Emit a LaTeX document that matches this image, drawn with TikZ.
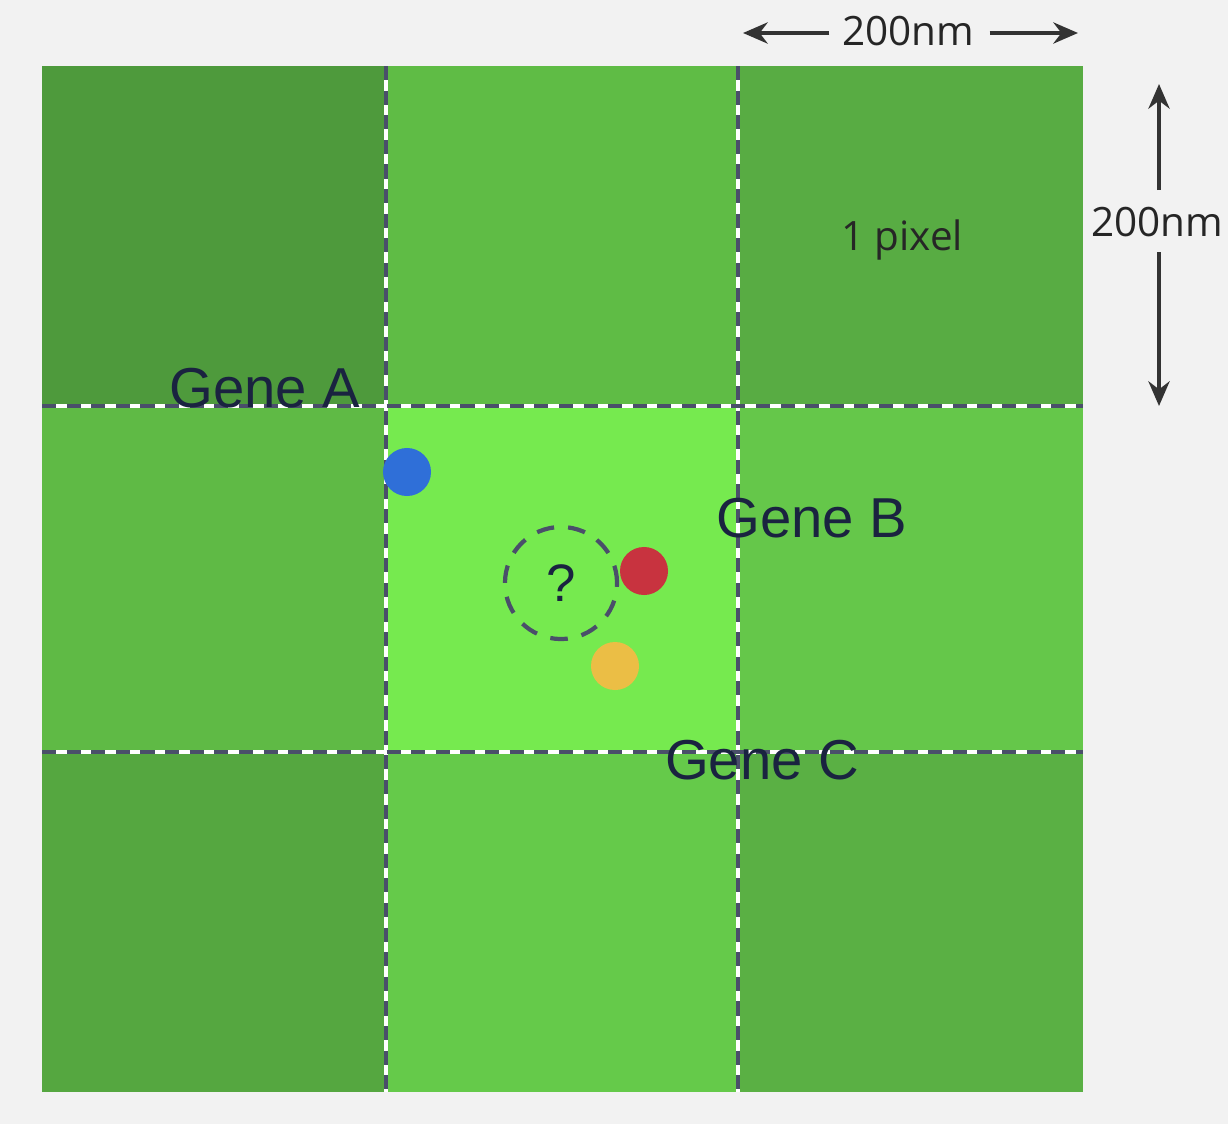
\documentclass[tikz,border=0pt]{standalone}
\usepackage{fontspec}
\setmainfont{Open Sans}
\newfontfamily\genefont{Liberation Sans}
\usetikzlibrary{positioning,arrows.meta}
\definecolor{bgc}{HTML}{F2F2F2}
\definecolor{ink}{HTML}{1A2340}
\definecolor{gridc}{HTML}{4A4F6A}
\tikzset{
  gene/.style={text=ink, font=\genefont\fontsize{16}{18}\selectfont, inner sep=0pt},
  dim/.style={font=\fontsize{11.5}{13}\selectfont, text=black!85, inner sep=0pt},
  dimarrow/.style={->, line width=1.2pt, black!80, >={Stealth[length=7pt,width=6pt]}},
  gridline/.style={line width=1.3pt},
  spot/.style={circle, minimum size=0.48cm, inner sep=0pt}
}
\begin{document}
\begin{tikzpicture}[x=0.01cm, y=-0.01cm]
  \fill[bgc] (0,0) rectangle (1228,1124);
  \useasboundingbox (0,0) rectangle (1228,1124);
  % pixel cells
  \fill[fill={rgb,255:red,78;green,154;blue,60}] (42,66) rectangle (386,406);
  \fill[fill={rgb,255:red,95;green,188;blue,69}] (386,66) rectangle (738,406);
  \fill[fill={rgb,255:red,88;green,172;blue,67}] (738,66) rectangle (1083,406);
  \fill[fill={rgb,255:red,95;green,186;blue,69}] (42,406) rectangle (386,752);
  \fill[fill={rgb,255:red,118;green,234;blue,79}] (386,406) rectangle (738,752);
  \fill[fill={rgb,255:red,101;green,199;blue,74}] (738,406) rectangle (1083,752);
  \fill[fill={rgb,255:red,85;green,167;blue,64}] (42,752) rectangle (386,1092);
  \fill[fill={rgb,255:red,101;green,202;blue,74}] (386,752) rectangle (738,1092);
  \fill[fill={rgb,255:red,90;green,176;blue,68}] (738,752) rectangle (1083,1092);
  % grid lines
  \foreach \x in {386,738} {
    \draw[gridline, white] (\x,66) -- (\x,1092);
    \draw[gridline, gridc, dash pattern=on 4pt off 3pt] (\x,66) -- (\x,1092);
  }
  \foreach \y in {406,752} {
    \draw[gridline, white] (42,\y) -- (1083,\y);
    \draw[gridline, gridc, dash pattern=on 4pt off 3pt] (42,\y) -- (1083,\y);
  }
  % labels
  \node[gene] (geneA) at (265,388) {Gene A};
  \node[gene] (geneB) at (812,518) {Gene B};
  \node[gene] (geneC) at (762,760) {Gene C};
  \node[dim] (pixel) at (902,240) {1 pixel};
  % spots
  \node[spot, fill={rgb,255:red,47;green,111;blue,216}] (blue) at (407,472) {};
  \node[spot, fill={rgb,255:red,200;green,51;blue,63}] (red) at (644,571) {};
  \node[spot, fill={rgb,255:red,235;green,190;blue,69}] (yellow) at (615,666) {};
  \node[circle, minimum size=1.12cm, draw=gridc, line width=1.2pt, dash pattern=on 5pt off 4pt,
        text=ink, font=\genefont\fontsize{15}{17}\selectfont] (query) at (561,583) {?};
  % dimensions
  \node[dim] (widthlbl) at (908,31) {200nm};
  \coordinate (wl) at (743,33);
  \coordinate (wr) at (1078,33);
  \draw[dimarrow] (widthlbl.west) ++(-12,2) -- (wl);
  \draw[dimarrow] (widthlbl.east) ++(15,2) -- (wr);
  \node[dim] (heightlbl) at (1157,222) {200nm};
  \coordinate (ht) at (1159,84);
  \coordinate (hb) at (1159,406);
  \draw[dimarrow] (1159,190) -- (ht);
  \draw[dimarrow] (1159,252) -- (hb);
\end{tikzpicture}
\end{document}
